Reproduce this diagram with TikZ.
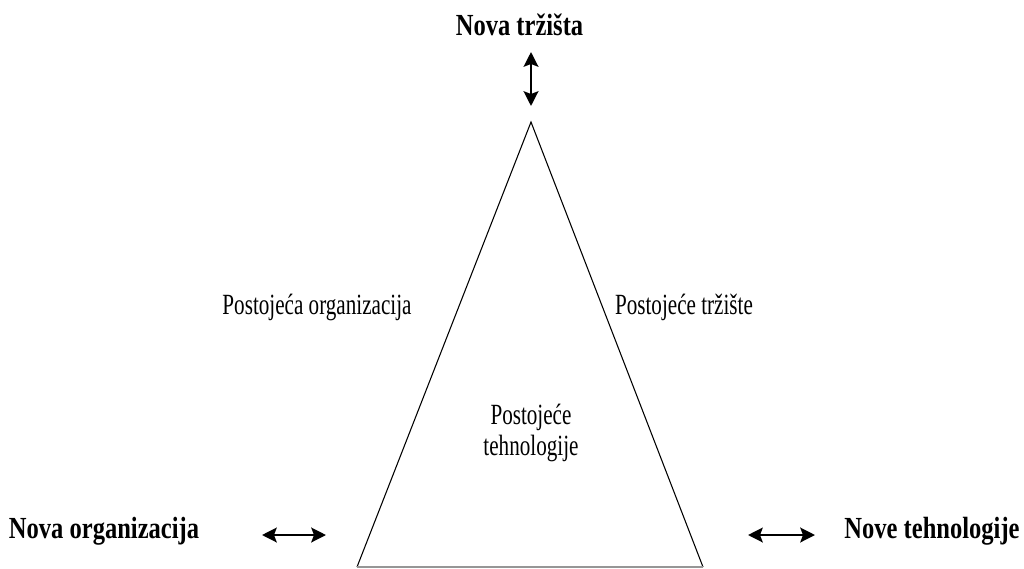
\documentclass[tikz,border=0pt]{standalone}
\usepackage{fontspec}
\setmainfont{Liberation Serif}
\usetikzlibrary{arrows.meta}
\tikzset{
  lbl/.style={inner sep=0.75pt, font=\fontsize{22}{26}\selectfont},
  blbl/.style={lbl, font=\fontsize{23}{26}\selectfont\bfseries},
  dblarr/.style={{Stealth[length=11pt,width=11pt,inset=2pt]}-{Stealth[length=11pt,width=11pt,inset=2pt]}, line width=2pt},
}
\newcommand{\narrowtxt}[1]{\scalebox{0.72}[1]{#1}}
\newcommand{\narrowbf}[1]{\scalebox{0.8}[1]{#1}}
\begin{document}
\begin{tikzpicture}[x=0.75pt,y=0.75pt,yscale=-1,xscale=1]
\useasboundingbox (0,0) rectangle (1024,568);

% triangle corners
\coordinate (apex) at (531,122);
\coordinate (bl) at (357,567);
\coordinate (br) at (703,567);
\draw [line width=0.8pt] (bl) -- (apex) -- (br);
\draw [color={rgb,255:red,150;green,150;blue,150}, line width=0.8pt] (bl) -- (br);

% Text Node
\node (trzista) [blbl, anchor=base] at (519.5,35) {\narrowbf{Nova tržišta}};
% Text Node
\node (norg) [blbl, anchor=base] at (104,538) {\narrowbf{Nova organizacija}};
% Text Node
\node (nteh) [blbl, anchor=base] at (932,538) {\narrowbf{Nove tehnologije}};
% Text Node
\node (porg) [lbl, anchor=base] at (317,314) {\narrowtxt{Postojeća organizacija}};
% Text Node
\node (ptrz) [lbl, anchor=base] at (684,314) {\narrowtxt{Postojeće tržište}};
% Text Node
\node (pteh) [lbl] at (531,433) {\narrowtxt{\begin{tabular}{@{}c@{}}Postojeće\\[-3pt]tehnologije\end{tabular}}};

% arrows
\coordinate (t1) at (531,52);
\coordinate (t2) at (531,106);
\draw [dblarr] (t1) -- (t2);
\coordinate (l1) at (262,535);
\coordinate (l2) at (326,535);
\draw [dblarr] (l1) -- (l2);
\coordinate (r1) at (748,535);
\coordinate (r2) at (815,535);
\draw [dblarr] (r1) -- (r2);

\end{tikzpicture}
\end{document}
